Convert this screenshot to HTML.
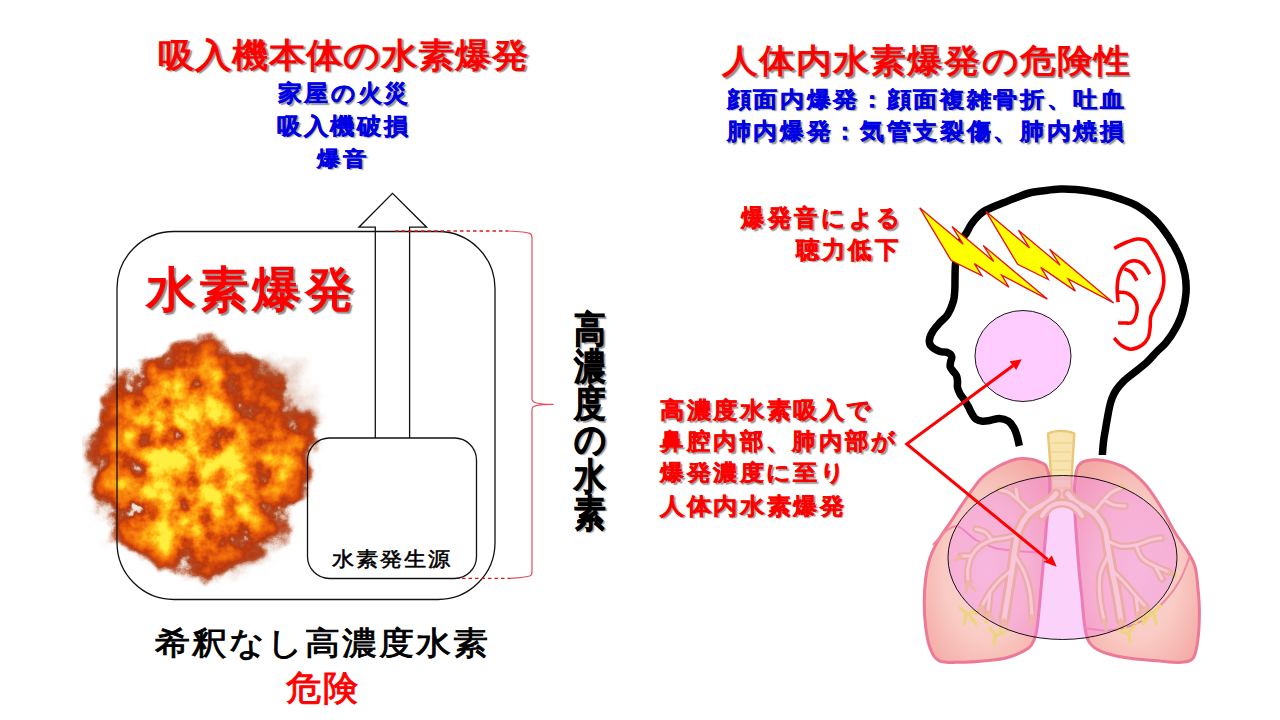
<!DOCTYPE html>
<html lang="ja">
<head>
<meta charset="utf-8">
<title>水素爆発の危険性</title>
<style>
html,body{margin:0;padding:0;background:#fff;}
body{width:1280px;height:720px;position:relative;overflow:hidden;font-family:"Liberation Sans",sans-serif;}
.t{position:absolute;white-space:nowrap;}
svg{position:absolute;left:0;top:0;}
</style>
</head>
<body>
<svg width="1280" height="720" viewBox="0 0 1280 720">
  <defs>
    
  </defs>

  <!-- fire -->
  <defs>
<filter id="ffX" filterUnits="userSpaceOnUse" x="60" y="310" width="290" height="300" color-interpolation-filters="sRGB">
  <feGaussianBlur in="SourceGraphic" stdDeviation="14" result="bl"/>
  <feTurbulence type="fractalNoise" baseFrequency="0.04" numOctaves="5" seed="12" result="n"/>
  <feColorMatrix in="n" type="matrix" values="1 0 0 0 0  1 0 0 0 0  1 0 0 0 0  0 0 0 0 1" result="ng"/>
  <feTurbulence type="fractalNoise" baseFrequency="0.025" numOctaves="3" seed="9" result="n2"/>
  <feDisplacementMap in="bl" in2="n2" scale="30" xChannelSelector="R" yChannelSelector="G" result="base"/>
  <feComposite in="base" in2="ng" operator="arithmetic" k1="2.4" k2="-0.2" k3="0" k4="0" result="heat"/>
  <feColorMatrix in="heat" type="matrix" values="1 0 0 0 0  1 0 0 0 0  1 0 0 0 0  0 0 0 0 1" result="heat3"/>
  <feComponentTransfer in="heat3" result="col">
    <feFuncR type="table" tableValues="0.95 0.9 0.7 0.72 0.85 0.93 0.97 0.99 1 1 1"/>
    <feFuncG type="table" tableValues="0.9 0.8 0.3 0.22 0.3 0.4 0.5 0.6 0.72 0.84 0.93"/>
    <feFuncB type="table" tableValues="0.87 0.75 0.15 0.06 0.04 0.04 0.05 0.06 0.09 0.14 0.25"/>
  </feComponentTransfer>
  <feComposite in="base" in2="ng" operator="arithmetic" k1="0" k2="1" k3="0.5" k4="-0.25" result="abase"/>
  <feColorMatrix in="abase" type="matrix" values="0 0 0 0 0  0 0 0 0 0  0 0 0 0 0  0 1 0 0 0" result="a0"/>
  <feComponentTransfer in="a0" result="amask">
    <feFuncA type="table" tableValues="0 0 0.05 0.45 0.9 1 1 1 1 1 1"/>
  </feComponentTransfer>
  <feComposite in="col" in2="amask" operator="in" x="82" y="328" width="250" height="268"/>
</filter></defs>
<g filter="url(#ffX)">
<rect x="60" y="310" width="290" height="300" fill="#000"/>
<path d="M160.0,357.0 C170.7,354.0 188.0,352.3 200.0,352.0 C212.0,351.7 221.7,352.7 232.0,355.0 C242.3,357.3 252.7,360.7 262.0,366.0 C271.3,371.3 280.8,378.0 288.0,387.0 C295.2,396.0 301.0,407.8 305.0,420.0 C309.0,432.2 312.8,448.0 312.0,460.0 C311.2,472.0 305.3,482.0 300.0,492.0 C294.7,502.0 287.5,511.0 280.0,520.0 C272.5,529.0 263.7,538.7 255.0,546.0 C246.3,553.3 237.2,559.7 228.0,564.0 C218.8,568.3 210.3,571.8 200.0,572.0 C189.7,572.2 177.3,569.8 166.0,565.0 C154.7,560.2 141.7,551.8 132.0,543.0 C122.3,534.2 113.5,524.2 108.0,512.0 C102.5,499.8 100.0,484.0 99.0,470.0 C98.0,456.0 99.3,440.3 102.0,428.0 C104.7,415.7 109.3,405.7 115.0,396.0 C120.7,386.3 128.5,376.5 136.0,370.0 C143.5,363.5 149.3,360.0 160.0,357.0 Z" fill="rgb(153,255,0)"/>
<ellipse cx="185" cy="468" rx="62" ry="75" fill="rgb(255,255,0)" opacity="0.32"/>
<ellipse cx="270" cy="395" rx="50" ry="42" fill="rgb(0,255,0)" opacity="0.35"/><ellipse cx="105" cy="470" rx="22" ry="50" fill="rgb(0,255,0)" opacity="0.25"/><ellipse cx="235" cy="555" rx="40" ry="20" fill="rgb(0,255,0)" opacity="0.25"/>
</g>

  <!-- big rounded rect -->
  <rect x="117" y="231.5" width="378" height="368" rx="57" ry="57" fill="none" stroke="#111" stroke-width="1.3"/>
  <!-- small rounded rect -->
  <rect x="307.5" y="438" width="169" height="140.5" rx="22" ry="22" fill="none" stroke="#111" stroke-width="1.3"/>
  <!-- up arrow -->
  <path d="M375.3,438 L375.3,227.2 L358.9,227.2 L392.5,193.3 L426.6,227.2 L409.6,227.2 L409.6,438" fill="none" stroke="#111" stroke-width="1.3"/>
  <!-- dashed lines -->
  <line x1="395" y1="231" x2="508" y2="231" stroke="#e01818" stroke-width="1.3" stroke-dasharray="3.5,3"/>
  <line x1="462" y1="578.4" x2="510" y2="578.4" stroke="#e01818" stroke-width="1.3" stroke-dasharray="3.5,3"/>
  <!-- brace -->
  <path d="M508,231 C518,231.5 527,232.2 530.3,233.6 C531.8,234.4 532,236 532,238.5 L532,399 C532,402.5 536,404.3 553.5,404.3 C536,404.3 532,406 532,409.5 L532,571 C532,573.5 531.8,575 530.3,575.8 C527,577.2 518,578 510,578.4" fill="none" stroke="#e0505e" stroke-width="1.2"/>

  <!-- head outline -->
  <path d="M1019.4,446.0 C1019.0,444.4 1018.1,439.7 1017.2,436.7 C1016.3,433.7 1015.4,430.4 1013.9,427.8 C1012.4,425.2 1010.7,422.7 1008.3,421.1 C1005.9,419.6 1002.3,418.6 999.4,418.5 C996.5,418.4 993.4,419.9 990.6,420.3 C987.8,420.8 984.9,421.4 982.5,421.2 C980.1,421.0 977.8,420.4 976.0,419.2 C974.2,417.9 973.2,415.9 971.9,413.7 C970.6,411.5 969.4,408.5 968.1,406.2 C966.9,403.9 965.8,402.1 964.4,400.0 C963.0,397.9 961.1,395.8 960.0,393.7 C958.9,391.6 957.9,389.6 957.5,387.5 C957.1,385.4 957.7,383.2 957.5,381.2 C957.3,379.2 957.2,377.3 956.5,375.6 C955.8,373.9 954.1,372.6 953.1,371.2 C952.1,369.8 950.6,368.4 950.2,366.9 C949.8,365.3 950.4,363.6 950.6,361.9 C950.9,360.2 952.2,358.1 951.7,356.5 C951.2,354.9 949.5,353.3 947.5,352.5 C945.5,351.7 942.7,352.5 940.0,351.5 C937.3,350.5 933.3,348.4 931.5,346.5 C929.7,344.6 929.1,342.6 929.4,340.0 C929.6,337.4 931.2,333.9 933.0,331.0 C934.8,328.1 937.5,325.3 940.0,322.5 C942.5,319.7 945.6,318.0 947.8,314.4 C950.0,310.8 952.2,305.2 953.4,301.1 C954.6,297.0 954.5,293.7 954.8,290.0 C955.1,286.3 954.9,283.5 955.0,279.0 C955.1,274.5 955.0,268.0 955.6,263.0 C956.2,258.0 957.4,253.0 958.5,249.0 C959.6,245.0 961.1,241.8 962.5,239.0 C963.9,236.2 965.3,234.8 966.7,232.5 C968.1,230.2 969.1,227.5 970.8,225.0 C972.5,222.5 974.6,219.7 976.7,217.5 C978.8,215.3 980.8,213.4 983.3,211.7 C985.8,210.0 988.2,209.0 991.7,207.5 C995.2,206.0 1000.0,204.2 1004.2,202.5 C1008.4,200.8 1012.5,199.1 1016.7,197.5 C1020.9,195.9 1024.4,194.2 1029.2,193.0 C1034.0,191.8 1040.5,191.2 1045.6,190.5 C1050.7,189.8 1055.0,189.2 1060.0,189.0 C1065.0,188.8 1068.9,188.9 1075.6,189.6 C1082.3,190.3 1092.8,191.7 1100.0,193.2 C1107.2,194.7 1112.6,196.3 1118.9,198.5 C1125.2,200.7 1131.8,202.8 1137.7,206.2 C1143.6,209.6 1149.1,213.8 1154.2,218.9 C1159.3,224.0 1164.3,230.5 1168.4,236.6 C1172.5,242.7 1176.2,249.2 1179.0,255.5 C1181.8,261.8 1183.7,268.0 1184.9,274.3 C1186.1,280.6 1186.4,286.9 1186.0,293.2 C1185.6,299.5 1184.2,306.2 1182.5,312.1 C1180.8,318.0 1178.2,323.5 1175.5,328.6 C1172.8,333.7 1169.1,338.9 1166.0,342.7 C1162.9,346.5 1160.3,348.1 1157.0,351.5 C1153.7,354.9 1150.5,359.1 1146.4,362.8 C1142.3,366.5 1136.3,370.7 1132.5,373.8 C1128.7,376.9 1126.4,378.5 1123.7,381.2 C1121.0,383.9 1118.2,387.1 1116.2,390.0 C1114.2,392.9 1113.0,395.8 1111.9,398.7 C1110.8,401.6 1110.1,404.4 1109.4,407.5 C1108.7,410.6 1108.1,414.0 1107.5,417.5 C1106.9,421.0 1106.2,424.9 1105.6,428.7 C1105.0,432.4 1104.2,436.2 1103.7,440.0 C1103.2,443.8 1102.8,448.7 1102.6,451.2 C1102.4,453.7 1102.4,454.4 1102.4,455.0" fill="none" stroke="#000" stroke-width="7.5" stroke-linecap="butt" stroke-linejoin="round"/>

  <!-- ear -->
  <g fill="none" stroke="#f00" stroke-width="3.6" stroke-linecap="butt" stroke-linejoin="round">
    <path d="M1114.2,248.4 C1116.2,247.4 1122.0,244.1 1125.9,242.5 C1129.8,240.9 1134.2,239.2 1137.7,239.0 C1141.2,238.8 1144.1,238.6 1147.2,241.3 C1150.3,244.1 1154.0,250.8 1156.6,255.5 C1159.1,260.2 1161.3,264.9 1162.5,269.6 C1163.7,274.3 1164.1,279.1 1163.7,283.8 C1163.3,288.5 1161.7,293.8 1160.1,297.9 C1158.5,302.0 1155.8,305.4 1154.2,308.5 C1152.6,311.6 1151.4,313.4 1150.7,316.8 C1150.0,320.2 1150.5,325.1 1150.0,328.6 C1149.5,332.1 1149.4,335.2 1148.0,338.0 C1146.6,340.8 1144.4,343.7 1141.5,345.6 C1138.6,347.5 1134.0,349.2 1130.7,349.2 C1127.4,349.2 1124.5,347.5 1121.7,345.6 C1118.9,343.7 1115.4,339.3 1114.1,338.0"/>
    <path d="M1149.7,274.2 C1148.6,272.6 1145.9,266.6 1143.3,264.3 C1140.7,262.1 1137.3,260.7 1134.3,260.7 C1131.3,260.7 1127.8,261.9 1125.3,264.3 C1122.8,266.7 1120.3,271.2 1119.0,275.1 C1117.7,279.0 1117.4,283.3 1117.2,287.8 C1117.0,292.3 1117.9,299.8 1118.1,302.2"/>
    <path d="M1118.1,292.3 C1119.6,292.4 1124.2,291.9 1127.1,293.2 C1129.9,294.5 1133.5,297.4 1135.2,300.4 C1136.9,303.4 1137.5,307.7 1137.0,311.3 C1136.5,314.9 1134.5,320.2 1132.5,322.1 C1130.5,324.1 1127.7,322.9 1125.3,323.0 C1122.9,323.1 1119.3,323.0 1118.1,323.0"/>
    <path d="M1124.4,268.8 C1125.6,269.4 1129.5,270.4 1131.6,272.4 C1133.7,274.4 1136.1,279.2 1137.0,280.6"/>
  </g>

  <!-- bolts -->
  <g fill="#ffff00" stroke="#e81010" stroke-width="1.3" stroke-linejoin="miter">
    <path id="bolt1" d="M919.7,207.8 L963.2,244.3 L952,226.4 L993.7,261.4 L983.2,245.4 L1047.3,299.1 L1001.7,275.2 L1009,287.3 L974.4,263.6 L981.9,275.7 L951.2,260.5 Z"/>
    <path d="M986.1,211.6 L1029.6,248.1 L1018.4,230.2 L1060.1,265.2 L1049.6,249.2 L1113.7,302.9 L1068.1,279 L1075.4,291.1 L1040.8,267.4 L1048.3,279.5 L1017.6,264.3 Z"/>
  </g>

  <!-- pink circle -->
  <ellipse cx="1023" cy="356" rx="48" ry="45.5" fill="#ffccff" stroke="#000" stroke-width="0.9"/>

  <!-- lungs -->
  <defs>
    <radialGradient id="lgL" cx="0.5" cy="0.55" r="0.62">
      <stop offset="0" stop-color="#fad6d6"/>
      <stop offset="0.55" stop-color="#f9cbc4"/>
      <stop offset="1" stop-color="#f4aaa4"/>
    </radialGradient>
    <radialGradient id="lgR" cx="0.5" cy="0.55" r="0.62">
      <stop offset="0" stop-color="#fad6d6"/>
      <stop offset="0.55" stop-color="#f9cbc4"/>
      <stop offset="1" stop-color="#f4aaa4"/>
    </radialGradient>
  </defs>
  <g>
    <!-- trachea -->
    <path d="M1048,433.5 C1055,430 1067,430 1074.3,433.5 L1071.5,480 L1072,500 L1052,500 L1051.4,480 Z" fill="#f7e4ae" stroke="#eac677" stroke-width="2.4"/>
    <g stroke="#efd896" stroke-width="1.6">
      <line x1="1051" y1="443" x2="1072" y2="443"/>
      <line x1="1051" y1="452" x2="1071.5" y2="452"/>
      <line x1="1051.5" y1="461" x2="1071" y2="461"/>
      <line x1="1051.5" y1="470" x2="1071" y2="470"/>
      <line x1="1052" y1="479" x2="1071" y2="479"/>
      <line x1="1052" y1="488" x2="1071" y2="488"/>
    </g>
    <path d="M1043.3,463.7 C1040.8,462.4 1035.7,459.9 1031.1,459.2 C1026.5,458.4 1021.4,457.9 1015.8,459.2 C1010.2,460.5 1003.4,463.5 997.5,466.8 C991.6,470.1 986.3,473.1 980.7,479.0 C975.1,484.9 968.7,495.0 963.9,501.9 C959.1,508.8 955.8,514.2 951.7,520.3 C947.6,526.4 943.0,532.5 939.4,538.6 C935.8,544.7 932.6,550.3 930.3,556.9 C928.0,563.5 926.7,570.6 925.7,578.3 C924.7,585.9 924.2,594.6 924.2,602.8 C924.2,610.9 924.7,619.6 925.7,627.2 C926.7,634.8 928.0,643.0 930.3,648.6 C932.6,654.2 934.3,658.5 939.4,660.8 C944.5,663.1 953.1,662.3 960.8,662.3 C968.4,662.3 977.6,661.5 985.3,660.8 C992.9,660.0 999.6,659.8 1006.7,657.8 C1013.8,655.8 1023.4,651.7 1028.0,648.6 C1032.6,645.5 1032.7,643.0 1034.2,639.4 C1035.7,635.8 1036.2,634.3 1037.2,627.2 C1038.2,620.1 1039.3,607.4 1040.3,596.7 C1041.3,586.0 1042.3,574.7 1043.3,563.0 C1044.3,551.3 1045.4,537.6 1046.4,526.4 C1047.4,515.2 1048.9,503.9 1049.4,495.8 C1049.9,487.7 1049.9,482.3 1049.4,477.5 C1048.9,472.7 1047.4,469.1 1046.4,466.8 C1045.4,464.5 1045.8,465.0 1043.3,463.7 Z" fill="url(#lgL)" stroke="#ec7a96" stroke-width="3"/>
    <path d="M1078.7,465.3 C1080.5,463.0 1082.1,461.5 1086.4,460.7 C1090.7,459.9 1098.1,459.4 1104.7,460.7 C1111.3,462.0 1119.5,464.5 1126.1,468.3 C1132.7,472.1 1138.8,477.5 1144.4,483.6 C1150.0,489.7 1154.6,496.9 1159.7,505.0 C1164.8,513.1 1170.4,524.9 1175.0,532.5 C1179.6,540.1 1183.9,545.2 1187.2,550.8 C1190.5,556.4 1193.1,560.0 1194.9,566.1 C1196.7,572.2 1197.2,579.9 1197.9,587.5 C1198.7,595.1 1199.4,603.2 1199.4,611.9 C1199.4,620.5 1198.9,631.8 1197.9,639.4 C1196.9,647.0 1196.1,654.0 1193.3,657.8 C1190.5,661.6 1187.2,661.8 1181.1,662.3 C1175.0,662.8 1165.9,661.5 1156.7,660.8 C1147.5,660.0 1135.3,659.3 1126.1,657.8 C1116.9,656.3 1107.8,654.1 1101.7,651.6 C1095.6,649.1 1092.2,646.6 1089.4,642.5 C1086.6,638.4 1086.2,634.8 1084.9,627.2 C1083.6,619.6 1082.8,606.9 1081.8,596.7 C1080.8,586.5 1079.7,577.8 1078.7,566.1 C1077.7,554.4 1076.5,538.1 1075.7,526.4 C1075.0,514.7 1074.2,504.5 1074.2,495.8 C1074.2,487.1 1075.0,479.5 1075.7,474.4 C1076.5,469.3 1076.9,467.6 1078.7,465.3 Z" fill="url(#lgR)" stroke="#ec7a96" stroke-width="3"/>
    <path d="M933.0,545.0 C935.0,542.8 940.9,535.1 945.0,532.0 C949.1,528.9 952.6,525.1 957.8,526.4 C963.0,527.7 969.8,536.4 976.0,540.0 C982.2,543.6 988.4,546.2 995.0,548.0 C1001.6,549.8 1008.3,550.0 1015.8,550.8 C1023.3,551.6 1036.0,552.6 1040.0,553.0" fill="none" stroke="#ee8aa2" stroke-width="2"/>
    <path d="M1190.0,556.0 C1188.3,560.0 1184.0,572.7 1180.0,580.0 C1176.0,587.3 1172.2,592.9 1165.8,599.7 C1159.4,606.6 1150.6,616.0 1141.4,621.1 C1132.2,626.2 1120.2,629.1 1110.8,630.3 C1101.4,631.4 1089.3,628.4 1085.0,628.0" fill="none" stroke="#ee8aa2" stroke-width="2"/>
    <!-- bronchi -->
    <path d="M1056.0,494.0 C1054.7,495.3 1051.2,499.7 1048.0,502.0 C1044.8,504.3 1040.5,505.7 1037.0,508.0 C1033.5,510.3 1030.0,512.3 1027.0,516.0 C1024.0,519.7 1021.0,524.7 1019.0,530.0 C1017.0,535.3 1016.2,541.3 1015.0,548.0 C1013.8,554.7 1013.2,562.2 1012.0,570.0 C1010.8,577.8 1009.3,586.7 1008.0,595.0 C1006.7,603.3 1004.7,615.8 1004.0,620.0 M1068.0,494.0 C1069.3,495.3 1072.8,499.7 1076.0,502.0 C1079.2,504.3 1083.5,505.7 1087.0,508.0 C1090.5,510.3 1094.0,512.3 1097.0,516.0 C1100.0,519.7 1103.2,524.7 1105.0,530.0 C1106.8,535.3 1106.8,541.3 1108.0,548.0 C1109.2,554.7 1110.5,562.2 1112.0,570.0 C1113.5,577.8 1115.5,586.7 1117.0,595.0 C1118.5,603.3 1120.3,615.8 1121.0,620.0" fill="none" stroke="#ecc480" stroke-width="11" stroke-linecap="round" stroke-linejoin="round"/>
    <path d="M1030.0,512.0 C1028.0,510.0 1021.7,503.3 1018.0,500.0 C1014.3,496.7 1011.0,493.7 1008.0,492.0 C1005.0,490.3 1001.3,490.3 1000.0,490.0 M1018.0,500.0 C1017.7,498.2 1016.3,490.8 1016.0,489.0 M1017.0,535.0 C1015.0,535.5 1009.2,537.2 1005.0,538.0 C1000.8,538.8 996.2,538.7 992.0,540.0 C987.8,541.3 983.3,543.5 980.0,546.0 C976.7,548.5 974.0,551.3 972.0,555.0 C970.0,558.7 968.7,563.5 968.0,568.0 C967.3,572.5 968.0,579.7 968.0,582.0 M992.0,540.0 C990.8,538.7 987.7,533.8 985.0,532.0 C982.3,530.2 977.5,529.5 976.0,529.0 M972.0,556.0 C970.2,556.0 962.8,556.0 961.0,556.0 M1012.0,570.0 C1010.0,571.7 1003.7,576.3 1000.0,580.0 C996.3,583.7 993.0,587.7 990.0,592.0 C987.0,596.3 983.3,603.7 982.0,606.0 M990.0,592.0 C989.7,595.3 988.3,608.7 988.0,612.0 M1015.0,556.0 C1016.5,558.7 1021.5,566.0 1024.0,572.0 C1026.5,578.0 1028.7,584.7 1030.0,592.0 C1031.3,599.3 1031.7,612.0 1032.0,616.0 M1094.0,512.0 C1095.7,510.0 1101.0,503.3 1104.0,500.0 C1107.0,496.7 1109.2,494.0 1112.0,492.0 C1114.8,490.0 1119.5,488.7 1121.0,488.0 M1104.0,500.0 C1105.7,500.8 1110.5,504.0 1114.0,505.0 C1117.5,506.0 1123.2,505.8 1125.0,506.0 M1106.0,540.0 C1108.3,541.0 1115.0,545.2 1120.0,546.0 C1125.0,546.8 1131.0,546.0 1136.0,545.0 C1141.0,544.0 1145.8,541.2 1150.0,540.0 C1154.2,538.8 1159.2,538.3 1161.0,538.0 M1136.0,545.0 C1137.0,547.2 1138.8,554.5 1142.0,558.0 C1145.2,561.5 1150.5,563.7 1155.0,566.0 C1159.5,568.3 1166.7,571.0 1169.0,572.0 M1155.0,566.0 C1156.2,568.2 1160.8,576.8 1162.0,579.0 M1112.0,570.0 C1114.0,572.0 1120.0,577.7 1124.0,582.0 C1128.0,586.3 1132.3,591.8 1136.0,596.0 C1139.7,600.2 1144.3,605.2 1146.0,607.0 M1136.0,596.0 C1136.3,598.8 1137.7,610.2 1138.0,613.0 M1108.0,556.0 C1106.7,559.2 1101.3,568.0 1100.0,575.0 C1098.7,582.0 1099.3,590.5 1100.0,598.0 C1100.7,605.5 1103.3,616.3 1104.0,620.0" fill="none" stroke="#ecc480" stroke-width="7.5" stroke-linecap="round" stroke-linejoin="round"/>
    <path d="M1056.0,494.0 C1054.7,495.3 1051.2,499.7 1048.0,502.0 C1044.8,504.3 1040.5,505.7 1037.0,508.0 C1033.5,510.3 1030.0,512.3 1027.0,516.0 C1024.0,519.7 1021.0,524.7 1019.0,530.0 C1017.0,535.3 1016.2,541.3 1015.0,548.0 C1013.8,554.7 1013.2,562.2 1012.0,570.0 C1010.8,577.8 1009.3,586.7 1008.0,595.0 C1006.7,603.3 1004.7,615.8 1004.0,620.0 M1068.0,494.0 C1069.3,495.3 1072.8,499.7 1076.0,502.0 C1079.2,504.3 1083.5,505.7 1087.0,508.0 C1090.5,510.3 1094.0,512.3 1097.0,516.0 C1100.0,519.7 1103.2,524.7 1105.0,530.0 C1106.8,535.3 1106.8,541.3 1108.0,548.0 C1109.2,554.7 1110.5,562.2 1112.0,570.0 C1113.5,577.8 1115.5,586.7 1117.0,595.0 C1118.5,603.3 1120.3,615.8 1121.0,620.0" fill="none" stroke="#fcefcf" stroke-width="5" stroke-linecap="round" stroke-linejoin="round"/>
    <path d="M1030.0,512.0 C1028.0,510.0 1021.7,503.3 1018.0,500.0 C1014.3,496.7 1011.0,493.7 1008.0,492.0 C1005.0,490.3 1001.3,490.3 1000.0,490.0 M1018.0,500.0 C1017.7,498.2 1016.3,490.8 1016.0,489.0 M1017.0,535.0 C1015.0,535.5 1009.2,537.2 1005.0,538.0 C1000.8,538.8 996.2,538.7 992.0,540.0 C987.8,541.3 983.3,543.5 980.0,546.0 C976.7,548.5 974.0,551.3 972.0,555.0 C970.0,558.7 968.7,563.5 968.0,568.0 C967.3,572.5 968.0,579.7 968.0,582.0 M992.0,540.0 C990.8,538.7 987.7,533.8 985.0,532.0 C982.3,530.2 977.5,529.5 976.0,529.0 M972.0,556.0 C970.2,556.0 962.8,556.0 961.0,556.0 M1012.0,570.0 C1010.0,571.7 1003.7,576.3 1000.0,580.0 C996.3,583.7 993.0,587.7 990.0,592.0 C987.0,596.3 983.3,603.7 982.0,606.0 M990.0,592.0 C989.7,595.3 988.3,608.7 988.0,612.0 M1015.0,556.0 C1016.5,558.7 1021.5,566.0 1024.0,572.0 C1026.5,578.0 1028.7,584.7 1030.0,592.0 C1031.3,599.3 1031.7,612.0 1032.0,616.0 M1094.0,512.0 C1095.7,510.0 1101.0,503.3 1104.0,500.0 C1107.0,496.7 1109.2,494.0 1112.0,492.0 C1114.8,490.0 1119.5,488.7 1121.0,488.0 M1104.0,500.0 C1105.7,500.8 1110.5,504.0 1114.0,505.0 C1117.5,506.0 1123.2,505.8 1125.0,506.0 M1106.0,540.0 C1108.3,541.0 1115.0,545.2 1120.0,546.0 C1125.0,546.8 1131.0,546.0 1136.0,545.0 C1141.0,544.0 1145.8,541.2 1150.0,540.0 C1154.2,538.8 1159.2,538.3 1161.0,538.0 M1136.0,545.0 C1137.0,547.2 1138.8,554.5 1142.0,558.0 C1145.2,561.5 1150.5,563.7 1155.0,566.0 C1159.5,568.3 1166.7,571.0 1169.0,572.0 M1155.0,566.0 C1156.2,568.2 1160.8,576.8 1162.0,579.0 M1112.0,570.0 C1114.0,572.0 1120.0,577.7 1124.0,582.0 C1128.0,586.3 1132.3,591.8 1136.0,596.0 C1139.7,600.2 1144.3,605.2 1146.0,607.0 M1136.0,596.0 C1136.3,598.8 1137.7,610.2 1138.0,613.0 M1108.0,556.0 C1106.7,559.2 1101.3,568.0 1100.0,575.0 C1098.7,582.0 1099.3,590.5 1100.0,598.0 C1100.7,605.5 1103.3,616.3 1104.0,620.0" fill="none" stroke="#fcefcf" stroke-width="3" stroke-linecap="round" stroke-linejoin="round"/>
    <path d="M1042,516 C1047,507 1054,503 1062,503 C1070,503 1077,507 1082,516" fill="none" stroke="#ecc480" stroke-width="9" stroke-linecap="round"/>
    <path d="M1042,516 C1047,507 1054,503 1062,503 C1070,503 1077,507 1082,516" fill="none" stroke="#fcefcf" stroke-width="4" stroke-linecap="round"/>
    <!-- yellow tufts -->
    <g fill="none" stroke="#eed47e" stroke-width="3.2" stroke-linecap="round" stroke-linejoin="round">
      <path d="M968,582 L966,592 M968,582 L975,590 M961,556 L955,560 M982,606 L976,614 M982,606 L984,616 M988,612 L986,622 M988,612 L994,620 M1004,620 L1000,630 M1004,620 L1008,630 M1032,616 L1030,626"/>
      <path d="M960,608 L968,614 L978,610 M966,614 L964,624 M970,616 L976,624 M990,628 L996,636 L1004,632 M995,636 L994,644"/>
      <path d="M1146,607 L1152,615 M1146,607 L1144,617 M1138,613 L1136,623 M1138,613 L1144,621 M1121,620 L1118,630 M1121,620 L1126,629 M1104,620 L1106,630 M1169,572 L1176,576"/>
      <path d="M1160,606 L1152,614 L1143,611 M1154,614 L1156,624 M1149,616 L1143,624 M1134,626 L1128,634 L1121,631 M1129,634 L1130,642"/>
    </g>
    <!-- ellipse overlay -->
    <ellipse cx="1062.5" cy="557.5" rx="114.5" ry="82" fill="#f07df0" fill-opacity="0.35" stroke="#000" stroke-width="0.9"/>
  </g>

  <!-- red arrows -->
  <g stroke="#f00" stroke-width="3" fill="none">
    <path d="M1012.9,365.7 L906.7,444 L1047.5,559.3"/>
  </g>
  <g fill="#f00">
    <path d="M1021.7,359.3 L1009.6,361.2 L1012.4,365.2 L1016.2,370.1 Z"/>
    <path d="M1056.7,566.7 L1051.8,555.4 L1048.6,559.1 L1043.4,561.8 Z"/>
  </g>
</svg>
<div class="t" style="left:157.8px;top:33px;font-size:36.86px;color:#ff0000;letter-spacing:0.47px;line-height:44.80px;font-weight:bold;text-shadow:1.6px 1.6px 1.3px rgba(50,50,50,0.55);transform-origin:187.20px 21.50px;transform:translate(-2.10px,0.65px) scale(0.9882,0.9216);">吸入機本体の水素爆発</div>
<div class="t" style="left:276px;top:78px;font-size:24.00px;color:#0000e6;letter-spacing:2.67px;line-height:32.00px;font-weight:bold;text-shadow:1.6px 1.6px 1.3px rgba(50,50,50,0.55);-webkit-text-stroke:0.45px #0000e6;transform-origin:65.50px 16.00px;transform:translate(1.25px,-0.62px) scale(0.9885,0.9519);">家屋の火災</div>
<div class="t" style="left:276px;top:110px;font-size:24.00px;color:#0000e6;letter-spacing:2.67px;line-height:32.00px;font-weight:bold;text-shadow:1.6px 1.6px 1.3px rgba(50,50,50,0.55);-webkit-text-stroke:0.45px #0000e6;transform-origin:66.00px 15.50px;transform:translate(0.90px,0.05px) scale(0.9985,0.9400);">吸入機破損</div>
<div class="t" style="left:316px;top:142px;font-size:24.00px;color:#0000e6;letter-spacing:2.67px;line-height:32.00px;font-weight:bold;text-shadow:1.6px 1.6px 1.3px rgba(50,50,50,0.55);-webkit-text-stroke:0.45px #0000e6;transform-origin:25.50px 15.50px;transform:translate(0.75px,0.70px) scale(0.9902,0.8880);">爆音</div>
<div class="t" style="left:144px;top:258.6px;font-size:49.74px;color:#ff0000;letter-spacing:3.59px;line-height:64.00px;font-weight:bold;text-shadow:1.6px 1.6px 1.3px rgba(50,50,50,0.55);transform-origin:104.50px 32.40px;transform:translate(1.05px,-1.00px) scale(0.9882,0.9600);">水素爆発</div>
<div class="t" style="left:331.2px;top:544.9px;font-size:22.75px;color:#000000;letter-spacing:1.25px;line-height:28.80px;-webkit-text-stroke:0.6px #000000;transform-origin:59.30px 14.60px;transform:translate(0.70px,-0.45px) scale(0.9899,0.8913);">水素発生源</div>
<div class="t" style="left:154.4px;top:620.8px;font-size:35.54px;color:#000000;letter-spacing:1.79px;line-height:44.80px;-webkit-text-stroke:1.0px #000000;transform-origin:169.60px 22.20px;transform:translate(-2.65px,0.50px) scale(0.9774,0.8947);">希釈なし高濃度水素</div>
<div class="t" style="left:284.1px;top:665.6px;font-size:35.24px;color:#ff0000;letter-spacing:2.09px;line-height:44.80px;-webkit-text-stroke:1.0px #ff0000;transform-origin:35.40px 22.40px;transform:translate(2.00px,-0.15px) scale(1.0000,0.9912);">危険</div>
<div class="t" style="left:720.6px;top:39.35px;font-size:36.55px;color:#ff0000;letter-spacing:0.78px;line-height:44.80px;font-weight:bold;text-shadow:1.6px 1.6px 1.3px rgba(50,50,50,0.55);transform-origin:207.40px 21.15px;transform:translate(-2.85px,0.35px) scale(0.9814,0.9000);">人体内水素爆発の危険性</div>
<div class="t" style="left:722.9px;top:83.85px;font-size:24.00px;color:#0000e6;letter-spacing:2.67px;line-height:32.00px;font-weight:bold;text-shadow:1.6px 1.6px 1.3px rgba(50,50,50,0.55);-webkit-text-stroke:0.45px #0000e6;transform-origin:198.60px 16.15px;transform:translate(3.70px,-0.35px) scale(1.0000,0.9115);">顔面内爆発：顔面複雑骨折、吐血</div>
<div class="t" style="left:722.9px;top:115.85px;font-size:24.00px;color:#0000e6;letter-spacing:2.67px;line-height:32.00px;font-weight:bold;text-shadow:1.6px 1.6px 1.3px rgba(50,50,50,0.55);-webkit-text-stroke:0.45px #0000e6;transform-origin:198.60px 16.65px;transform:translate(3.70px,-0.70px) scale(1.0000,0.9600);">肺内爆発：気管支裂傷、肺内焼損</div>
<div class="t" style="left:735.5px;top:202.5px;font-size:24.00px;color:#ff0000;letter-spacing:2.67px;line-height:32.00px;font-weight:bold;text-shadow:1.6px 1.6px 1.3px rgba(50,50,50,0.55);-webkit-text-stroke:0.45px #ff0000;transform-origin:78.50px 16.00px;transform:translate(4.90px,-1.05px) scale(0.9974,1.0200);">爆発音による</div>
<div class="t" style="left:793.2px;top:234.5px;font-size:24.00px;color:#ff0000;letter-spacing:2.67px;line-height:32.00px;font-weight:bold;text-shadow:1.6px 1.6px 1.3px rgba(50,50,50,0.55);-webkit-text-stroke:0.45px #ff0000;transform-origin:51.30px 16.50px;transform:translate(2.20px,-1.15px) scale(0.9771,1.0042);">聴力低下</div>
<div class="t" style="left:659.5px;top:395.6px;font-size:24.00px;color:#ff0000;letter-spacing:2.67px;line-height:32.00px;font-weight:bold;text-shadow:1.6px 1.6px 1.3px rgba(50,50,50,0.55);-webkit-text-stroke:0.45px #ff0000;transform-origin:106.00px 15.90px;transform:translate(-0.10px,-1.45px) scale(0.9953,0.9400);">高濃度水素吸入で</div>
<div class="t" style="left:659.5px;top:427.4px;font-size:24.00px;color:#ff0000;letter-spacing:2.67px;line-height:32.00px;font-weight:bold;text-shadow:1.6px 1.6px 1.3px rgba(50,50,50,0.55);-webkit-text-stroke:0.45px #ff0000;transform-origin:119.50px 15.10px;transform:translate(-0.90px,-1.30px) scale(0.9891,0.9760);">鼻腔内部、肺内部が</div>
<div class="t" style="left:659.5px;top:459.2px;font-size:24.00px;color:#ff0000;letter-spacing:2.67px;line-height:32.00px;font-weight:bold;text-shadow:1.6px 1.6px 1.3px rgba(50,50,50,0.55);-webkit-text-stroke:0.45px #ff0000;transform-origin:90.50px 15.80px;transform:translate(-0.55px,-1.75px) scale(0.9894,0.9038);">爆発濃度に至り</div>
<div class="t" style="left:659.5px;top:491.0px;font-size:24.00px;color:#ff0000;letter-spacing:2.67px;line-height:32.00px;font-weight:bold;text-shadow:1.6px 1.6px 1.3px rgba(50,50,50,0.55);-webkit-text-stroke:0.45px #ff0000;transform-origin:92.50px 15.50px;transform:translate(-0.10px,-0.75px) scale(0.9946,0.9400);">人体内水素爆発</div>
<div class="t" style="left:572.8px;top:311.5px;font-size:37.33px;color:#000000;line-height:36.8px;width:40px;white-space:normal;font-weight:bold;text-shadow:1.6px 1.6px 1.3px rgba(50,50,50,0.55);-webkit-text-stroke:0.7px #000000;transform-origin:18.20px 110.00px;transform:translate(-1.45px,-1.10px) scale(0.8553,0.9991);">高<br>濃<br>度<br>の<br>水<br>素</div>
</body>
</html>
